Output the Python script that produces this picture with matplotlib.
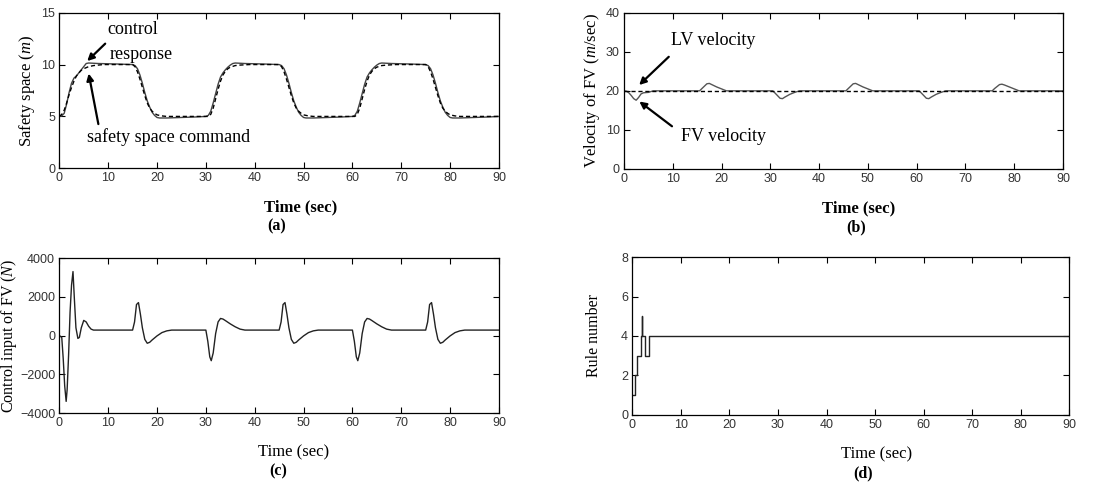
import matplotlib
matplotlib.use("Agg")
from matplotlib import pyplot as plt

# (a) safety space
ta_resp = [0, 0.5, 1, 1.5, 2, 2.5, 3, 3.5, 4, 4.5, 5, 5.5, 6, 8, 12, 15,
           15.5, 16, 16.5, 17, 17.5, 18, 18.5, 19, 19.5, 20, 20.5, 22, 25, 28, 30,
           30.5, 31, 31.5, 32, 32.5, 33, 33.5, 34, 34.5, 35, 35.5, 36, 38, 42, 45,
           45.5, 46, 46.5, 47, 47.5, 48, 48.5, 49, 49.5, 50, 50.5, 52, 55, 58, 60,
           60.5, 61, 61.5, 62, 62.5, 63, 63.5, 64, 64.5, 65, 65.5, 66, 68, 72, 75,
           75.5, 76, 76.5, 77, 77.5, 78, 78.5, 79, 79.5, 80, 80.5, 82, 85, 88, 90]
ya_resp = [5.0, 5.05, 5.3, 6.2, 7.3, 8.2, 8.7, 8.9, 9.2, 9.5, 9.8, 10.1, 10.15, 10.1, 10.05, 10.0,
           9.9, 9.6, 9.0, 8.2, 7.3, 6.5, 5.9, 5.4, 5.1, 4.9, 4.85, 4.85, 4.9, 4.95, 5.0,
           5.1, 5.5, 6.3, 7.2, 8.1, 8.8, 9.2, 9.5, 9.75, 9.95, 10.1, 10.15, 10.1, 10.05, 10.0,
           9.9, 9.6, 9.0, 8.2, 7.3, 6.5, 5.9, 5.4, 5.1, 4.9, 4.85, 4.85, 4.9, 4.95, 5.0,
           5.1, 5.5, 6.3, 7.2, 8.1, 8.8, 9.2, 9.5, 9.75, 9.95, 10.1, 10.15, 10.1, 10.05, 10.0,
           9.9, 9.6, 9.0, 8.2, 7.3, 6.5, 5.9, 5.4, 5.1, 4.9, 4.85, 4.85, 4.9, 4.95, 5.0]

ta_cmd = [0, 0.5, 1, 1.5, 2, 2.5, 3, 3.5, 4, 4.5, 5, 5.5, 6, 7, 9, 15,
          15.5, 16, 16.5, 17, 17.5, 18, 18.5, 19, 19.5, 20, 21, 22, 30,
          30.5, 31, 31.5, 32, 32.5, 33, 33.5, 34, 34.5, 35, 36, 37, 39, 45,
          45.5, 46, 46.5, 47, 47.5, 48, 48.5, 49, 49.5, 50, 51, 52, 60,
          60.5, 61, 61.5, 62, 62.5, 63, 63.5, 64, 64.5, 65, 66, 67, 69, 75,
          75.5, 76, 76.5, 77, 77.5, 78, 78.5, 79, 79.5, 80, 81, 82, 90]
ya_cmd = [5.0, 5.2, 5.6, 6.3, 7.1, 7.8, 8.4, 8.9, 9.2, 9.45, 9.6, 9.7, 9.8, 9.9, 10.0, 10.0,
          9.8, 9.3, 8.6, 7.8, 7.0, 6.3, 5.8, 5.5, 5.3, 5.15, 5.05, 5.0, 5.0,
          5.0, 5.2, 5.8, 6.7, 7.6, 8.4, 9.0, 9.35, 9.6, 9.75, 9.9, 9.95, 10.0, 10.0,
          9.8, 9.3, 8.6, 7.8, 7.0, 6.3, 5.8, 5.5, 5.3, 5.15, 5.05, 5.0, 5.0,
          5.0, 5.2, 5.8, 6.7, 7.6, 8.4, 9.0, 9.35, 9.6, 9.75, 9.9, 9.95, 10.0, 10.0,
          9.8, 9.3, 8.6, 7.8, 7.0, 6.3, 5.8, 5.5, 5.3, 5.15, 5.05, 5.0, 5.0]

# (b) velocities
tb_fv = [0, 0.5, 1, 1.5, 2, 2.5, 3, 3.5, 4, 5, 6,
         15.5, 16, 17, 17.5, 18, 19, 20, 21,
         30.5, 31, 32, 32.5, 33, 34, 35, 36,
         45.5, 46, 47, 47.5, 48, 49, 50, 51,
         60.5, 61, 62, 62.5, 63, 64, 65, 66,
         75.5, 76, 77, 77.5, 78, 79, 80, 81, 90]
yb_fv = [20, 19.9, 19.5, 18.8, 18.0, 17.6, 18.3, 19.2, 19.5, 19.6, 20,
         20, 20.6, 21.8, 21.9, 21.6, 21.0, 20.5, 20.0,
         20, 19.4, 18.1, 18.0, 18.4, 19.1, 19.6, 20.0,
         20, 20.6, 21.8, 21.9, 21.6, 21.0, 20.5, 20.0,
         20, 19.4, 18.1, 18.0, 18.4, 19.1, 19.6, 20.0,
         20, 20.6, 21.6, 21.7, 21.5, 21.0, 20.5, 20.0, 20]
tb_lv = [0, 90]
yb_lv = [20, 20]

# (c) control input
tc = [0, 0.5, 0.8, 1.1, 1.4, 1.6, 1.9, 2.2, 2.5, 2.8, 3.1, 3.4, 3.8, 4.1, 4.5, 5, 5.5, 6, 6.5, 7,
      15, 15.4, 15.8, 16.2, 16.6, 17, 17.5, 18, 18.5, 19, 20, 21, 22, 23,
      30, 30.4, 30.8, 31.1, 31.5, 32, 32.5, 33, 33.5, 34, 35, 36, 37, 38,
      45, 45.4, 45.8, 46.2, 46.6, 47, 47.5, 48, 48.5, 49, 50, 51, 52, 53,
      60, 60.4, 60.8, 61.1, 61.5, 62, 62.5, 63, 63.5, 64, 65, 66, 67, 68,
      75, 75.4, 75.8, 76.2, 76.6, 77, 77.5, 78, 78.5, 79, 80, 81, 82, 83, 90]
yc = [0, -100, -1200, -2600, -3400, -2800, -1000, 1200, 2600, 3300, 1800, 400, -150, -100, 400, 780, 700, 480, 330, 280,
      280, 700, 1600, 1700, 1100, 400, -200, -400, -350, -230, -20, 150, 240, 280,
      280, -300, -1100, -1300, -900, 100, 700, 880, 850, 770, 600, 450, 330, 280,
      280, 700, 1600, 1700, 1100, 400, -200, -400, -350, -230, -20, 150, 240, 280,
      280, -300, -1100, -1300, -900, 100, 700, 880, 850, 770, 600, 450, 330, 280,
      280, 700, 1600, 1700, 1100, 400, -200, -400, -350, -230, -20, 150, 240, 280, 280]

# (d) rule number
td = [0, 0.5, 1.0, 1.75, 2.0, 2.05, 2.6, 3.4, 90]
yd = [1, 2, 3, 4, 5, 4, 3, 4, 4]

serif = "Liberation Serif"
plt.rcParams["font.family"] = "Liberation Sans"
plt.rcParams["mathtext.fontset"] = "custom"
plt.rcParams["mathtext.rm"] = "Liberation Serif"
plt.rcParams["mathtext.it"] = "Liberation Serif:italic"

fig = plt.figure(figsize=(11.15, 4.86), dpi=100)
ax_a = fig.add_axes([0.0532, 0.6537, 0.3943, 0.3202])
ax_b = fig.add_axes([0.5596, 0.6523, 0.3937, 0.3216])
ax_c = fig.add_axes([0.0532, 0.1502, 0.3943, 0.3189])
ax_d = fig.add_axes([0.5671, 0.1467, 0.3919, 0.3239])


def style(ax, ylim, yticks):
    ax.set_xlim(0, 90)
    ax.set_xticks(range(0, 91, 10))
    ax.set_ylim(*ylim)
    ax.set_yticks(yticks)
    ax.tick_params(direction="in", length=4, width=0.8, top=True, right=True,
                   labelsize=9, labelcolor="#333333", pad=3)
    for s in ax.spines.values():
        s.set_linewidth(0.9)


arrow = dict(arrowstyle="-|>", color="black", lw=1.6, mutation_scale=10)

ax_a.plot(ta_resp, ya_resp, color="#444444", lw=1.0)
ax_a.plot(ta_cmd, ya_cmd, color="black", lw=1.0, ls=(0, (3, 2)))
style(ax_a, (0, 15), [0, 5, 10, 15])
ax_a.set_ylabel("Safety space ($m$)", family=serif, fontsize=12, labelpad=3)
ax_a.set_xlabel("Time (sec)", family=serif, fontsize=12, fontweight="bold", labelpad=11)
ax_a.text(9.8, 13.4, "control", family=serif, fontsize=13, va="center")
ax_a.text(10.4, 11.0, "response", family=serif, fontsize=13, va="center")
ax_a.text(5.7, 3.0, "safety space command", family=serif, fontsize=13, va="center")
ax_a.annotate("", xy=(5.3, 10.15), xytext=(9.8, 12.2), arrowprops=arrow)
ax_a.annotate("", xy=(5.9, 9.4), xytext=(8.1, 4.0), arrowprops=arrow)

ax_b.plot(tb_fv, yb_fv, color="#555555", lw=1.0)
ax_b.plot(tb_lv, yb_lv, color="black", lw=1.0, ls=(0, (3, 2)))
style(ax_b, (0, 40), [0, 10, 20, 30, 40])
ax_b.set_ylabel("Velocity of FV ($m$/sec)", family=serif, fontsize=12, labelpad=3)
ax_b.set_xlabel("Time (sec)", family=serif, fontsize=12, fontweight="bold", labelpad=11)
ax_b.text(9.6, 32.8, "LV velocity", family=serif, fontsize=13, va="center")
ax_b.text(11.7, 8.2, "FV velocity", family=serif, fontsize=13, va="center")
ax_b.annotate("", xy=(2.7, 21.0), xytext=(9.6, 29.2), arrowprops=arrow)
ax_b.annotate("", xy=(2.7, 17.7), xytext=(10.3, 10.5), arrowprops=arrow)

ax_c.plot(tc, yc, color="#222222", lw=1.0)
style(ax_c, (-4000, 4000), [-4000, -2000, 0, 2000, 4000])
ax_c.set_ylabel("Control input of FV ($N$)", family=serif, fontsize=11.5, labelpad=1)
ax_c.set_xlabel("Time (sec)", family=serif, fontsize=12, labelpad=11)

ax_d.step(td, yd, where="post", color="#222222", lw=1.0)
style(ax_d, (0, 8), [0, 2, 4, 6, 8])
ax_d.set_ylabel("Rule number", family=serif, fontsize=11.5, labelpad=14)
ax_d.set_xlabel("Time (sec)", family=serif, fontsize=12, labelpad=11)

# x label and panel label horizontal offsets, as in the original layout
xlab_pos = {ax_a: 0.548, ax_b: 0.534, ax_c: 0.532, ax_d: 0.56}
for ax, x in xlab_pos.items():
    ax.xaxis.label.set_x(x)

for ax, lab, x in [(ax_a, "(a)", 0.495), (ax_b, "(b)", 0.53),
                   (ax_c, "(c)", 0.498), (ax_d, "(d)", 0.527)]:
    ax.text(x, -0.375, lab, transform=ax.transAxes, ha="center", va="center",
            family=serif, fontsize=11.5, fontweight="bold")

fig.savefig("out.png", dpi=100)
